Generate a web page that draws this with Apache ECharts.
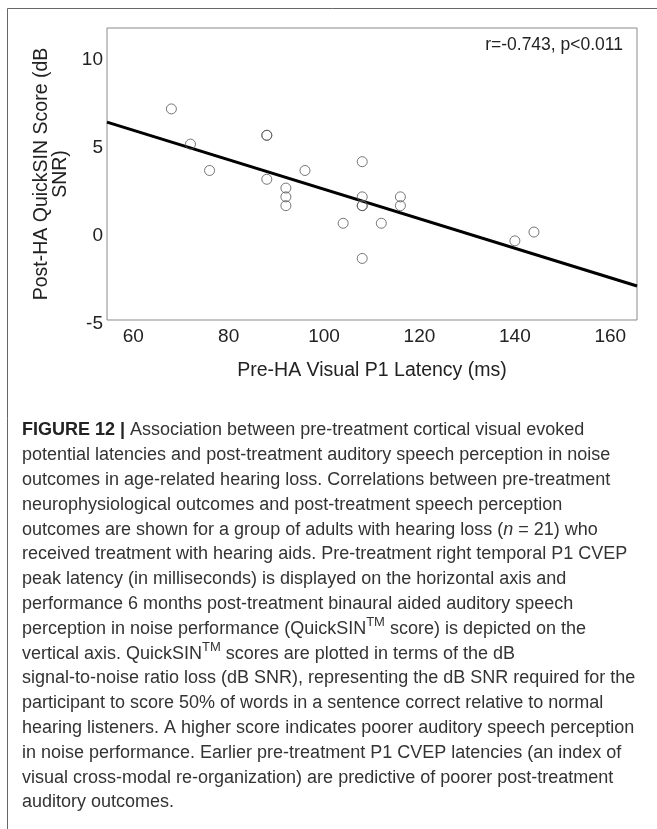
<!DOCTYPE html>
<html>
<head>
<meta charset="utf-8">
<script src="https://cdn.jsdelivr.net/npm/echarts@6/dist/echarts.min.js"></script>
<style>
  html, body { margin: 0; padding: 0; background: #fff; }
  #chart { width: 657px; height: 829px; }
</style>
</head>
<body>
<div id="chart"></div>
<script>
// Pre-HA visual P1 latency (ms) per participant
const latency = [68, 72, 76, 88, 88, 88, 92, 92, 92, 96, 104, 108, 108, 108, 108, 108, 112, 116, 116, 140, 144];
// Post-HA QuickSIN score (dB SNR) per participant
const quickSIN = [7, 5, 3.5, 5.5, 5.5, 3, 2.5, 2, 1.5, 3.5, 0.5, 4, 2, 1.5, 1.5, -1.5, 0.5, 2, 1.5, -0.5, 0];
// Linear fit, evaluated at the two ends of the x range
const fitLatency = [54.5, 165.6];
const fitQuickSIN = [6.25, -3.07];
// Axis tick labels
const xTicks = [60, 80, 100, 120, 140, 160];
const yTicks = [-5, 0, 5, 10];
const statLabel = 'r=-0.743, p<0.011';

const captionLines = [
  '{b|FIGURE 12 |} Association between pre-treatment cortical visual evoked',
  'potential latencies and post-treatment auditory speech perception in noise',
  'outcomes in age-related hearing loss. Correlations between pre-treatment',
  'neurophysiological outcomes and post-treatment speech perception',
  'outcomes are shown for a group of adults with hearing loss ({i|n} = 21) who',
  'received treatment with hearing aids. Pre-treatment right temporal P1 CVEP',
  'peak latency (in milliseconds) is displayed on the horizontal axis and',
  'performance 6 months post-treatment binaural aided auditory speech',
  'perception in noise performance (QuickSIN{sup|TM} score) is depicted on the',
  'vertical axis. QuickSIN{sup|TM} scores are plotted in terms of the dB',
  'signal-to-noise ratio loss (dB SNR), representing the dB SNR required for the',
  'participant to score 50% of words in a sentence correct relative to normal',
  'hearing listeners. A higher score indicates poorer auditory speech perception',
  'in noise performance. Earlier pre-treatment P1 CVEP latencies (an index of',
  'visual cross-modal re-organization) are predictive of poorer post-treatment',
  'auditory outcomes.'
];

const FONT = '"Liberation Sans", Arial, Helvetica, sans-serif';
const CAP = 18;
const LH = 24.8;
const chart = echarts.init(document.getElementById('chart'), null, { renderer: 'canvas' });

chart.setOption({
  animation: false,
  backgroundColor: '#fff',
  textStyle: { fontFamily: FONT },
  grid: {
    left: 107, top: 28, width: 530, height: 292,
    show: true, borderColor: '#8a8a8a', borderWidth: 1, backgroundColor: 'transparent'
  },
  xAxis: {
    type: 'value',
    min: 54.5, max: 165.6,
    name: 'Pre-HA Visual P1 Latency (ms)',
    nameLocation: 'middle',
    nameGap: 41,
    nameTextStyle: { fontSize: 19.5, color: '#222', fontFamily: FONT },
    axisLine: { show: false },
    axisTick: { show: false },
    splitLine: { show: false },
    axisLabel: {
      customValues: xTicks,
      fontSize: 19, color: '#222', margin: 7, fontFamily: FONT
    }
  },
  yAxis: {
    type: 'value',
    min: -5, max: 11.6,
    name: 'Post-HA QuickSIN Score (dB\nSNR)',
    nameLocation: 'middle',
    nameRotate: 90,
    nameGap: 37,
    nameTextStyle: { fontSize: 19.5, lineHeight: 19, color: '#222', fontFamily: FONT, align: 'center' },
    axisLine: { show: false },
    axisTick: { show: false },
    splitLine: { show: false },
    axisLabel: {
      customValues: yTicks,
      margin: 4,
      formatter: (v) => '{v|' + v + '}',
      rich: {
        v: { fontSize: 19, color: '#222', fontFamily: FONT, padding: [8, 0, 0, 0] }
      }
    }
  },
  series: [
    {
      type: 'line',
      data: fitLatency.map((x, i) => [x, fitQuickSIN[i]]),
      showSymbol: false,
      lineStyle: { color: '#000', width: 3 },
      z: 2
    },
    {
      type: 'scatter',
      data: latency.map((x, i) => [x, quickSIN[i]]),
      symbol: 'circle',
      symbolSize: 10,
      itemStyle: { color: 'rgba(255,255,255,0)', borderColor: '#555', borderWidth: 1 },
      z: 3
    }
  ],
  graphic: [
    {
      type: 'polyline',
      shape: { points: [[7.5, 829], [7.5, 8.5], [657, 8.5]] },
      style: { stroke: '#666', lineWidth: 1, fill: null },
      silent: true
    },
    {
      type: 'text',
      right: 34, top: 36,
      style: { text: statLabel, fontSize: 17.5, fill: '#222', fontFamily: FONT }
    },
    {
      type: 'text',
      left: 22, top: 418,
      style: {
        text: captionLines.join('\n'),
        fontSize: CAP,
        lineHeight: LH,
        fill: '#333',
        fontFamily: FONT,
        rich: {
          b: { fontSize: CAP, fontWeight: 'bold', fill: '#222', lineHeight: LH, fontFamily: FONT },
          i: { fontSize: CAP, fontStyle: 'italic', fill: '#333', lineHeight: LH, fontFamily: FONT },
          sup: { fontSize: 13, fill: '#333', verticalAlign: 'top', lineHeight: LH, padding: [0, 0, 12, 0], fontFamily: FONT }
        }
      }
    }
  ]
});
</script>
</body>
</html>
